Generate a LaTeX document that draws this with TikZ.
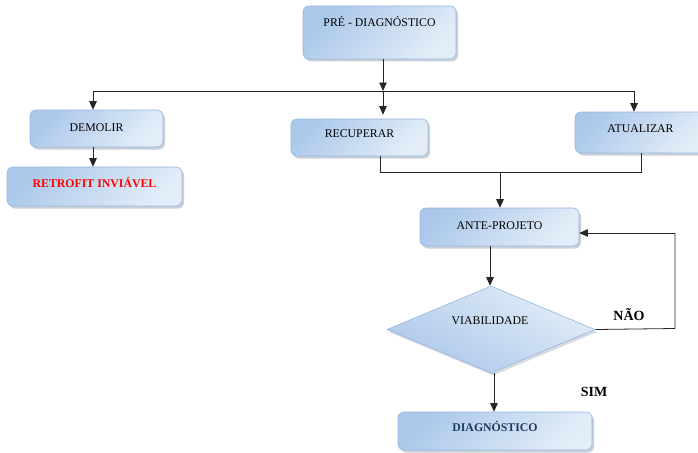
\documentclass[tikz,border=0pt]{standalone}
\usepackage{fontspec}
\setmainfont{Liberation Serif}
\usetikzlibrary{arrows.meta,shapes.geometric,shadows,calc}
\definecolor{bxdraw}{HTML}{93B6DF}
\definecolor{bxdark}{HTML}{ABC8EA}
\definecolor{bxlight}{HTML}{E3EDF8}
\definecolor{shd}{HTML}{8A97A8}
\definecolor{lnc}{HTML}{262626}
\definecolor{dblue}{HTML}{1F3B63}
\begin{document}
\begin{tikzpicture}[x=1pt,y=-1pt,
  box/.style={rectangle, rounded corners=6pt, draw=bxdraw, line width=0.6pt,
    top color=bxdark, bottom color=bxlight, shading angle=45,
    drop shadow={shadow xshift=2pt, shadow yshift=-2.5pt, fill=shd, opacity=0.45},
    inner sep=0pt, text height=8pt, font=\fontsize{11.8}{13}\selectfont},
  txtraise/.style={text depth=#1},
  dia/.style={diamond, draw=bxdraw, line width=0.6pt, inner sep=0pt,
    top color=bxlight, bottom color=bxdark, shading angle=-30,
    drop shadow={shadow xshift=2pt, shadow yshift=-2.5pt, fill=shd, opacity=0.35}},
  lbl/.style={font=\bfseries\fontsize{14}{16}\selectfont, inner sep=0pt},
  ln/.style={draw=lnc, line width=0.8pt},
  arr/.style={ln, -{Triangle[width=7.5pt,length=8.5pt]}}
]
\useasboundingbox (0,0) rectangle (698,452);

% boxes
\node[box, txtraise=19pt, minimum width=153pt, minimum height=53pt] (pre) at (379.5,32.5) {PRÉ - DIAGNÓSTICO};
\node[box, txtraise=3pt, minimum width=133pt, minimum height=37pt] (demolir) at (96.5,128.5) {DEMOLIR};
\node[box, txtraise=7pt, minimum width=175pt, minimum height=39pt, text=red, font=\bfseries\fontsize{11.8}{13}\selectfont] (retro) at (94.5,186.5) {RETROFIT INVIÁVEL};
\node[box, txtraise=8pt, minimum width=137pt, minimum height=37pt] (recup) at (359.5,137.5) {RECUPERAR};
\node[box, txtraise=9pt, minimum width=131pt, minimum height=41pt] (atual) at (640.5,132.5) {ATUALIZAR};
\node[box, txtraise=4pt, minimum width=159pt, minimum height=38pt] (ante) at (499.5,227) {ANTE-PROJETO};
\node[dia, minimum width=208pt, minimum height=87pt] (viab) at (491,329.5) {};
\node[font=\fontsize{11.8}{13}\selectfont, inner sep=0pt] (viabtxt) at (490,321) {VIABILIDADE};
\node[box, txtraise=8pt, minimum width=194pt, minimum height=38pt, text=dblue, font=\bfseries\fontsize{11.8}{13}\selectfont] (diag) at (495,431) {DIAGNÓSTICO};

% labels
\node[lbl] (nao) at (629,315) {NÃO};
\node[lbl] (sim) at (594,392) {SIM};

% coordinates
\coordinate (busL) at (93,91);
\coordinate (busM) at (383,91);
\coordinate (busR) at (634,91);
\coordinate (recB) at (380,172);
\coordinate (atuB) at (641,172);
\coordinate (mrg) at (500,172);
\coordinate (loopB) at (675,328.5);
\coordinate (loopT) at (675,233);

% connectors
\draw[arr] (busM |- pre.south) -- (busM);
\draw[ln] (busL) -- (busR);
\draw[arr] (busL) -- (busL |- demolir.north);
\draw[arr] (busM) -- ($(busM |- recup.north)+(0,-4)$);
\draw[arr] (busR) -- (busR |- atual.north);
\draw[arr] (busL |- demolir.south) -- (busL |- retro.north);
\draw[ln] (recB |- recup.south) -- (recB) -- (atuB) -- (atuB |- atual.south);
\draw[arr] (mrg) -- (mrg |- ante.north);
\draw[arr] (490,0 |- ante.south) -- (490,0 |- viab.north);
\draw[ln] (viab.east) -- (loopB) -- (loopT);
\draw[arr] (loopT) -- (loopT -| ante.east);
\draw[arr] (494,0 |- viab.south) -- (494,0 |- diag.north);
\end{tikzpicture}
\end{document}
